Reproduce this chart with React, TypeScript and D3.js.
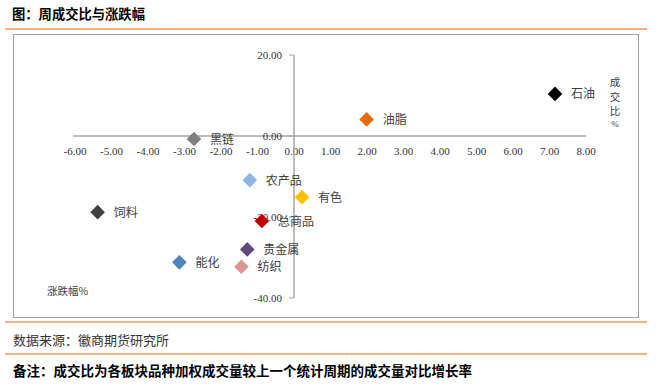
import React from "react";
import * as d3 from "d3";

const names = ["石油", "油脂", "黑链", "农产品", "有色", "总商品", "饲料", "贵金属", "能化", "纺织"];
const changePct = [7.15, 1.99, -2.74, -1.21, 0.22, -0.88, -5.38, -1.28, -3.14, -1.44];
const volumeRatio = [10.4, 4.1, -0.75, -10.9, -15.1, -21.0, -18.8, -28.0, -31.2, -32.3];
const colors = ["#000000", "#E36C09", "#7F7F7F", "#8DB4E2", "#FFC000", "#C00000", "#404040", "#604A7B", "#4F81BD", "#D99694"];
const xTicks = [-6, -5, -4, -3, -2, -1, 0, 1, 2, 3, 4, 5, 6, 7, 8];
const yTicks = [20, 0, -20, -40];

const W = 662;
const H = 387;
const serif = "'Liberation Serif', 'Times New Roman', 'Noto Sans CJK SC', serif";
const cjk = "'Noto Sans CJK SC', sans-serif";

export default function App() {
  const x = d3.scaleLinear().domain([-6, 8]).range([75, 586]);
  const y = d3.scaleLinear().domain([-40, 20]).range([298, 55]);
  const x0 = x(0);
  const y0 = y(0);
  const diamond = (cx: number, cy: number, r: number) =>
    `M${cx},${cy - r}L${cx + r},${cy}L${cx},${cy + r}L${cx - r},${cy}Z`;

  return (
    <svg width={W} height={H} style={{ position: "absolute", left: 0, top: 0, background: "#fff" }}>
      <rect x={0} y={0} width={W} height={H} fill="#fff" />
      <text x={12} y={19} fontFamily={cjk} fontWeight={700} fontSize={13.3} fill="#000">图：周成交比与涨跌幅</text>
      <line x1={5} x2={647} y1={29} y2={29} stroke="#F4B183" strokeWidth={2} />
      <rect x={13.5} y={34.5} width={625} height={283} fill="none" stroke="#A0A0A0" strokeWidth={1} />

      {/* x axis */}
      <line x1={x(-6) - 2} x2={x(8)} y1={y0} y2={y0} stroke="#A6A6A6" strokeWidth={1.5} />
      {xTicks.map((t) => (
        <text key={"x" + t} x={x(t)} y={155} textAnchor="middle" fontFamily={serif} fontSize={11} fill="#333">
          {t.toFixed(2)}
        </text>
      ))}
      {/* y axis */}
      <line x1={x0} x2={x0} y1={y(20)} y2={y(-40)} stroke="#A6A6A6" strokeWidth={1.5} />
      {yTicks.map((t) => (
        <g key={"y" + t}>
          <line x1={x0 - 5} x2={x0} y1={y(t)} y2={y(t)} stroke="#A6A6A6" strokeWidth={1} />
          <text x={x0 - 12} y={y(t) + 4} textAnchor="end" fontFamily={serif} fontSize={11} fill="#333">
            {t.toFixed(2)}
          </text>
        </g>
      ))}

      {/* points */}
      {names.map((n, i) => (
        <g key={n}>
          <path d={diamond(x(changePct[i]), y(volumeRatio[i]), 7.3)} fill={colors[i]} />
          <text x={x(changePct[i]) + 16} y={y(volumeRatio[i]) + 4.5} fontFamily={cjk} fontSize={12} fill="#404040">
            {n}
          </text>
        </g>
      ))}

      {/* axis titles */}
      {["成", "交", "比"].map((c, i) => (
        <text key={c} x={615} y={86 + i * 14.5} textAnchor="middle" fontFamily={cjk} fontSize={10.5} fill="#404040">{c}</text>
      ))}
      <text x={615} y={127} textAnchor="middle" fontFamily={serif} fontSize={9} fill="#404040">%</text>
      <text x={47} y={295} fontFamily={cjk} fontSize={10.5} fill="#404040">涨跌幅%</text>

      <line x1={5} x2={647} y1={322} y2={322} stroke="#F4B183" strokeWidth={2} />
      <text x={13} y={344.5} fontFamily={cjk} fontSize={13} fill="#333">数据来源：徽商期货研究所</text>
      <line x1={5} x2={647} y1={354} y2={354} stroke="#F4B183" strokeWidth={2} />
      <text x={13} y={376} fontFamily={cjk} fontWeight={700} fontSize={13.5} fill="#000">备注：成交比为各板块品种加权成交量较上一个统计周期的成交量对比增长率</text>
    </svg>
  );
}
